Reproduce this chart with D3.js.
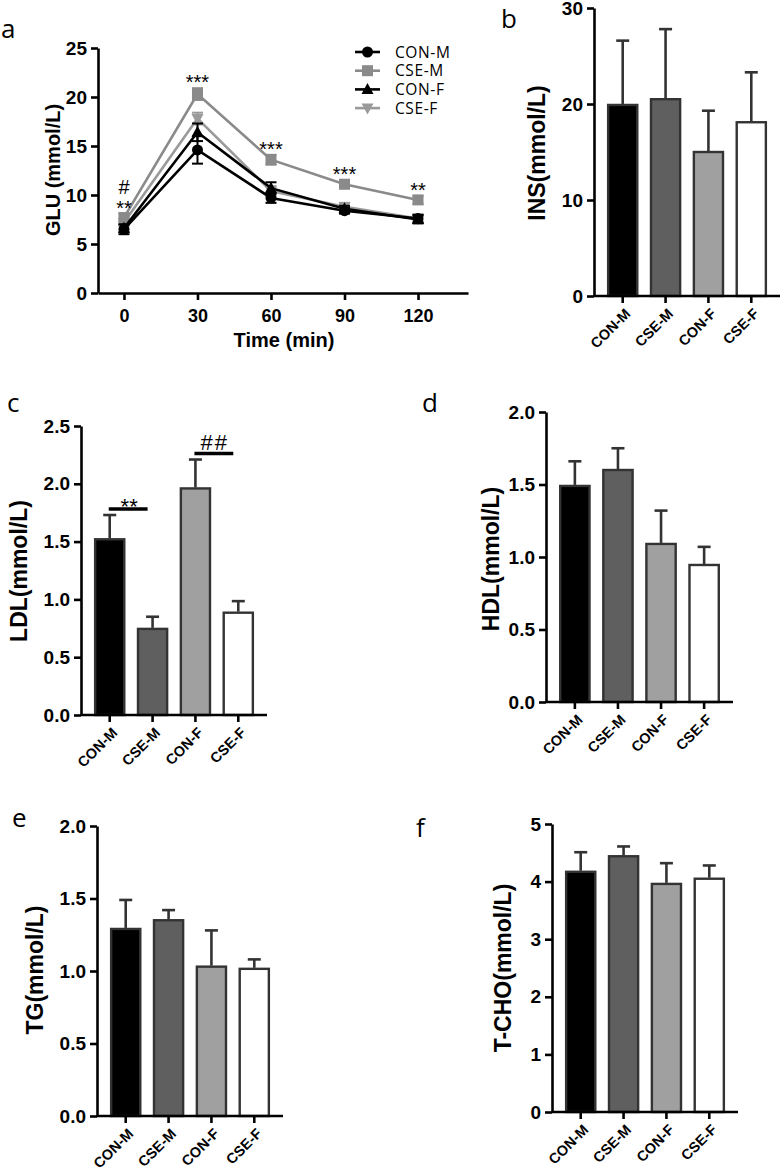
<!DOCTYPE html>
<html><head><meta charset="utf-8">
<script src="https://cdn.jsdelivr.net/npm/d3@7"></script>
<style>
html,body{margin:0;padding:0;background:#fff;}
svg{display:block;}
</style></head>
<body>
<svg id="chart" width="784" height="1171"></svg>
<script>
// ---------- DATA ----------
const groups = ["CON-M", "CSE-M", "CON-F", "CSE-F"];
const times = [0, 30, 60, 90, 120];
// Panel a: GLU (mmol/L)
const gluConM = [6.5, 14.6, 9.7, 8.4, 7.6];
const gluConMErr = [0.5, 1.4, 0.5, 0.3, 0.4];
const gluCseM = [7.7, 20.3, 13.6, 11.1, 9.5];
const gluCseMErr = [0.4, 0.6, 0.5, 0.4, 0.4];
const gluConF = [6.6, 16.4, 10.7, 8.6, 7.5];
const gluConFErr = [0.4, 0.9, 0.6, 0.3, 0.4];
const gluCseF = [7.2, 17.8, 10.4, 8.8, 7.6];
const gluCseFErr = [0.4, 0.6, 0.5, 0.4, 0.3];
const gluYTicks = [0, 5, 10, 15, 20, 25];
const gluXTicks = [0, 30, 60, 90, 120];
const gluSig = [["#", "**"], ["***"], ["***"], ["***"], ["**"]];
// Panel b: INS
const insMean = [19.9, 20.5, 15.0, 18.1];
const insErr = [6.7, 7.3, 4.3, 5.2];
const insTicks = [0, 10, 20, 30];
// Panel c: LDL
const ldlMean = [1.52, 0.745, 1.96, 0.885];
const ldlErr = [0.21, 0.105, 0.25, 0.10];
const ldlTicks = [0, 0.5, 1.0, 1.5, 2.0, 2.5];
// Panel d: HDL
const hdlMean = [1.49, 1.60, 1.09, 0.945];
const hdlErr = [0.17, 0.15, 0.23, 0.125];
const hdlTicks = [0, 0.5, 1.0, 1.5, 2.0];
// Panel e: TG
const tgMean = [1.29, 1.35, 1.03, 1.015];
const tgErr = [0.20, 0.07, 0.25, 0.065];
const tgTicks = [0, 0.5, 1.0, 1.5, 2.0];
// Panel f: T-CHO
const tchoMean = [4.17, 4.44, 3.96, 4.05];
const tchoErr = [0.34, 0.17, 0.36, 0.23];
const tchoTicks = [0, 1, 2, 3, 4, 5];

// ---------- STYLE ----------
const barFills = ["#000000", "#5f5f5f", "#a0a0a0", "#ffffff"];
const barStroke = "#333333";
const svg = d3.select("#chart");
const tickFont = "'Liberation Sans', Arial, sans-serif";

function styleAxis(g, fs) {
  g.select(".domain").attr("stroke", "#000").attr("stroke-width", 2.6);
  g.selectAll(".tick line").attr("stroke", "#000").attr("stroke-width", 2.6);
  g.selectAll(".tick text").attr("font-family", tickFont).attr("font-weight", "bold")
    .attr("font-size", fs).attr("fill", "#000");
}

function panelLetter(t, x, y) {
  svg.append("text").attr("x", x).attr("y", y).text(t)
    .attr("font-family", "'Open Sans', 'Noto Sans', sans-serif").attr("font-size", 26).attr("fill", "#000");
}

function barPanel(o) {
  const y = d3.scaleLinear().domain([0, o.max]).range([o.y0, o.y1]);
  const x = d3.scaleBand().domain(groups).range([o.ax, o.axEnd]).paddingInner(0.32).paddingOuter(0.33);
  const g = svg.append("g");
  g.selectAll("rect.bar").data(groups).join("rect")
    .attr("x", d => x(d)).attr("width", x.bandwidth())
    .attr("y", (d, i) => y(o.mean[i])).attr("height", (d, i) => y(0) - y(o.mean[i]))
    .attr("fill", (d, i) => barFills[i]).attr("stroke", barStroke).attr("stroke-width", 2.4);
  const eb = g.selectAll("g.eb").data(groups).join("g");
  eb.append("line")
    .attr("x1", d => x(d) + x.bandwidth() / 2).attr("x2", d => x(d) + x.bandwidth() / 2)
    .attr("y1", (d, i) => y(o.mean[i]) - 1).attr("y2", (d, i) => y(o.mean[i] + o.err[i]))
    .attr("stroke", barStroke).attr("stroke-width", 2.6);
  eb.append("line")
    .attr("x1", d => x(d) + x.bandwidth() / 2 - 6.5).attr("x2", d => x(d) + x.bandwidth() / 2 + 6.5)
    .attr("y1", (d, i) => y(o.mean[i] + o.err[i])).attr("y2", (d, i) => y(o.mean[i] + o.err[i]))
    .attr("stroke", barStroke).attr("stroke-width", 2.6);
  const ya = g.append("g").attr("transform", `translate(${o.ax},0)`)
    .call(d3.axisLeft(y).tickValues(o.ticks).tickFormat(d3.format(o.fmt)).tickSize(7).tickPadding(4).tickSizeOuter(0));
  styleAxis(ya, 19);
  const xa = g.append("g").attr("transform", `translate(0,${o.y0})`)
    .call(d3.axisBottom(x).tickSize(7).tickSizeOuter(0).tickFormat(""));
  xa.select(".domain").attr("d", `M${o.ax},0H${o.axEnd}`);
  styleAxis(xa, 14);
  g.selectAll("text.xl").data(groups).join("text")
    .attr("transform", d => `translate(${x(d) + x.bandwidth() / 2 + 5},${o.y0 + 15}) rotate(-45)`)
    .attr("text-anchor", "end").attr("dy", "0.35em")
    .attr("font-family", tickFont).attr("font-weight", "bold").attr("font-size", 14.5)
    .text(d => d);
  g.append("text").attr("transform", `translate(${o.tx},${o.ty}) rotate(-90)`)
    .attr("text-anchor", "middle").attr("dy", "0.35em")
    .attr("font-family", tickFont).attr("font-weight", "bold").attr("font-size", 23)
    .text(o.title);
  return {x, y, g};
}

// ---------- PANEL a ----------
(function () {
  const x = d3.scaleLinear().domain([-10.6, 140.4]).range([98, 468]);
  const y = d3.scaleLinear().domain([0, 25]).range([293, 48]);
  const g = svg.append("g");
  const series = [
    {name: "CSE-F", v: gluCseF, e: gluCseFErr, c: "#9a9a9a", sym: "down"},
    {name: "CSE-M", v: gluCseM, e: gluCseMErr, c: "#8a8a8a", sym: "square"},
    {name: "CON-F", v: gluConF, e: gluConFErr, c: "#000", sym: "up"},
    {name: "CON-M", v: gluConM, e: gluConMErr, c: "#000", sym: "circle"}
  ];
  const line = d3.line().x((d, i) => x(times[i])).y(d => y(d));
  function sym(sel, s, cx, cy) {
    if (s.sym === "circle") sel.append("circle").attr("cx", cx).attr("cy", cy).attr("r", 5.5).attr("fill", s.c);
    else if (s.sym === "square") sel.append("rect").attr("x", cx - 5.5).attr("y", cy - 5.5).attr("width", 11).attr("height", 11).attr("fill", s.c);
    else if (s.sym === "up") sel.append("path").attr("d", `M${cx},${cy - 6.5}L${cx + 6},${cy + 4.5}L${cx - 6},${cy + 4.5}Z`).attr("fill", s.c);
    else sel.append("path").attr("d", `M${cx},${cy + 6.5}L${cx + 6},${cy - 4.5}L${cx - 6},${cy - 4.5}Z`).attr("fill", s.c);
  }
  series.forEach(s => {
    const sg = g.append("g");
    sg.append("path").datum(s.v).attr("d", line).attr("fill", "none").attr("stroke", s.c).attr("stroke-width", 2.6);
    s.v.forEach((v, i) => {
      const cx = x(times[i]);
      sg.append("line").attr("x1", cx).attr("x2", cx).attr("y1", y(v - s.e[i])).attr("y2", y(v + s.e[i]))
        .attr("stroke", s.c).attr("stroke-width", 2);
      [v - s.e[i], v + s.e[i]].forEach(w => sg.append("line").attr("x1", cx - 5.5).attr("x2", cx + 5.5)
        .attr("y1", y(w)).attr("y2", y(w)).attr("stroke", s.c).attr("stroke-width", 2));
      sym(sg, s, cx, y(v));
    });
  });
  const ya = g.append("g").attr("transform", "translate(98,0)")
    .call(d3.axisLeft(y).tickValues(gluYTicks).tickSize(7).tickPadding(4).tickSizeOuter(0));
  styleAxis(ya, 19);
  const xa = g.append("g").attr("transform", "translate(0,293)")
    .call(d3.axisBottom(x).tickValues(gluXTicks).tickSize(7).tickPadding(9).tickSizeOuter(0));
  styleAxis(xa, 18);
  g.append("text").attr("transform", "translate(53,170) rotate(-90)").attr("text-anchor", "middle").attr("dy", "0.35em")
    .attr("font-family", tickFont).attr("font-weight", "bold").attr("font-size", 20).text("GLU (mmol/L)");
  g.append("text").attr("x", 284).attr("y", 340).attr("text-anchor", "middle").attr("dy", "0.35em")
    .attr("font-family", tickFont).attr("font-weight", "bold").attr("font-size", 20).text("Time (min)");
  gluSig.forEach((marks, i) => {
    const top = d3.max([gluCseM[i] + gluCseMErr[i], gluCseF[i] + gluCseFErr[i], gluConF[i] + gluConFErr[i]]);
    let cy = y(top) - 10;
    marks.slice().reverse().forEach(m => {
      g.append("text").attr("x", x(times[i])).attr("y", cy + (m === "#" ? 7 : 11)).attr("text-anchor", "middle")
        .attr("font-family", tickFont).attr("font-size", 20).text(m);
      cy -= 17;
    });
  });
  const lg = g.append("g");
  const legendOrder = [series[3], series[1], series[2], series[0]];
  legendOrder.forEach((s, i) => {
    const cy = 52 + i * 18.7;
    lg.append("line").attr("x1", 355).attr("x2", 380).attr("y1", cy).attr("y2", cy).attr("stroke", s.c).attr("stroke-width", 2.6);
    sym(lg, s, 367.5, cy);
    lg.append("text").attr("x", 395).attr("y", cy).attr("dy", "0.36em").attr("font-family", "'Open Sans', sans-serif")
      .attr("font-size", 15.5).attr("letter-spacing", 0.6).text(s.name);
  });
})();

// ---------- BAR PANELS ----------
barPanel({mean: insMean, err: insErr, max: 30, ticks: insTicks, fmt: "d", ax: 594, axEnd: 780, y0: 296, y1: 8, tx: 537, ty: 153, title: "INS(mmol/L)"});
const pc = barPanel({mean: ldlMean, err: ldlErr, max: 2.5, ticks: ldlTicks, fmt: ".1f", ax: 81, axEnd: 267, y0: 715, y1: 426, tx: 19, ty: 571, title: "LDL(mmol/L)"});
barPanel({mean: hdlMean, err: hdlErr, max: 2.0, ticks: hdlTicks, fmt: ".1f", ax: 546, axEnd: 733, y0: 702, y1: 412, tx: 491, ty: 559, title: "HDL(mmol/L)"});
barPanel({mean: tgMean, err: tgErr, max: 2.0, ticks: tgTicks, fmt: ".1f", ax: 97, axEnd: 283, y0: 1116, y1: 826, tx: 35, ty: 970, title: "TG(mmol/L)"});
barPanel({mean: tchoMean, err: tchoErr, max: 5, ticks: tchoTicks, fmt: "d", ax: 552, axEnd: 738, y0: 1112, y1: 824, tx: 503, ty: 968, title: "T-CHO(mmol/L)"});

(function () {
  const {x, y, g} = pc;
  const c = d => x(d) + x.bandwidth() / 2;
  const pairs = [
    {a: "CON-M", b: "CSE-M", top: ldlMean[0] + ldlErr[0], mark: "**", dy: 5},
    {a: "CON-F", b: "CSE-F", top: ldlMean[2] + ldlErr[2], mark: "##", dy: -4}
  ];
  pairs.forEach(p => {
    const yy = y(p.top) - 6;
    g.append("line").attr("x1", c(p.a) - 1).attr("x2", c(p.b) - 5).attr("y1", yy).attr("y2", yy)
      .attr("stroke", "#000").attr("stroke-width", 3.5);
    g.append("text").attr("x", (c(p.a) + c(p.b)) / 2 - 2).attr("y", yy + p.dy).attr("text-anchor", "middle")
      .attr("font-family", tickFont).attr("font-size", 22).attr("letter-spacing", p.mark === "##" ? 2 : 0).text(p.mark);
  });
})();

panelLetter("a", 1, 38);
panelLetter("b", 501, 28);
panelLetter("c", 7, 412);
panelLetter("d", 422, 412);
panelLetter("e", 12, 827);
panelLetter("f", 416, 837);
</script>
</body></html>
